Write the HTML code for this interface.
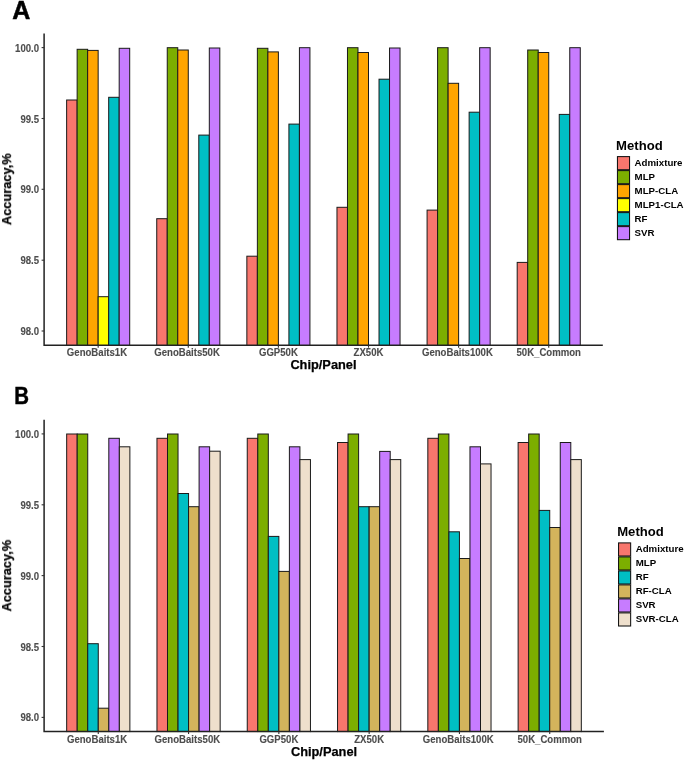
<!DOCTYPE html>
<html><head><meta charset="utf-8"><style>
html,body{margin:0;padding:0;background:#fff;}
body{width:685px;height:760px;overflow:hidden;}
svg{display:block;}
text{will-change:transform;}
</style></head><body>
<svg width="685" height="760" viewBox="0 0 685 760">
<rect width="685" height="760" fill="#fff"/>
<rect x="66.63" y="100.00" width="10.51" height="250.30" fill="#F8766D" stroke="#1a1a1a" stroke-width="1"/>
<rect x="77.14" y="49.30" width="10.51" height="301.00" fill="#7CAE00" stroke="#1a1a1a" stroke-width="1"/>
<rect x="87.65" y="50.40" width="10.51" height="299.90" fill="#FFA500" stroke="#1a1a1a" stroke-width="1"/>
<rect x="98.17" y="296.70" width="10.51" height="53.60" fill="#FFFF00" stroke="#1a1a1a" stroke-width="1"/>
<rect x="108.68" y="97.30" width="10.51" height="253.00" fill="#00BFC4" stroke="#1a1a1a" stroke-width="1"/>
<rect x="119.19" y="48.30" width="10.51" height="302.00" fill="#C77CFF" stroke="#1a1a1a" stroke-width="1"/>
<rect x="156.74" y="218.70" width="10.51" height="131.60" fill="#F8766D" stroke="#1a1a1a" stroke-width="1"/>
<rect x="167.25" y="47.70" width="10.51" height="302.60" fill="#7CAE00" stroke="#1a1a1a" stroke-width="1"/>
<rect x="177.77" y="50.00" width="10.51" height="300.30" fill="#FFA500" stroke="#1a1a1a" stroke-width="1"/>
<rect x="198.79" y="135.10" width="10.51" height="215.20" fill="#00BFC4" stroke="#1a1a1a" stroke-width="1"/>
<rect x="209.31" y="48.00" width="10.51" height="302.30" fill="#C77CFF" stroke="#1a1a1a" stroke-width="1"/>
<rect x="246.85" y="256.20" width="10.51" height="94.10" fill="#F8766D" stroke="#1a1a1a" stroke-width="1"/>
<rect x="257.37" y="48.30" width="10.51" height="302.00" fill="#7CAE00" stroke="#1a1a1a" stroke-width="1"/>
<rect x="267.88" y="51.90" width="10.51" height="298.40" fill="#FFA500" stroke="#1a1a1a" stroke-width="1"/>
<rect x="288.91" y="124.10" width="10.51" height="226.20" fill="#00BFC4" stroke="#1a1a1a" stroke-width="1"/>
<rect x="299.42" y="47.70" width="10.51" height="302.60" fill="#C77CFF" stroke="#1a1a1a" stroke-width="1"/>
<rect x="336.97" y="207.30" width="10.51" height="143.00" fill="#F8766D" stroke="#1a1a1a" stroke-width="1"/>
<rect x="347.48" y="47.70" width="10.51" height="302.60" fill="#7CAE00" stroke="#1a1a1a" stroke-width="1"/>
<rect x="357.99" y="52.50" width="10.51" height="297.80" fill="#FFA500" stroke="#1a1a1a" stroke-width="1"/>
<rect x="379.02" y="79.20" width="10.51" height="271.10" fill="#00BFC4" stroke="#1a1a1a" stroke-width="1"/>
<rect x="389.53" y="48.00" width="10.51" height="302.30" fill="#C77CFF" stroke="#1a1a1a" stroke-width="1"/>
<rect x="427.08" y="210.10" width="10.51" height="140.20" fill="#F8766D" stroke="#1a1a1a" stroke-width="1"/>
<rect x="437.59" y="47.70" width="10.51" height="302.60" fill="#7CAE00" stroke="#1a1a1a" stroke-width="1"/>
<rect x="448.11" y="83.30" width="10.51" height="267.00" fill="#FFA500" stroke="#1a1a1a" stroke-width="1"/>
<rect x="469.13" y="112.20" width="10.51" height="238.10" fill="#00BFC4" stroke="#1a1a1a" stroke-width="1"/>
<rect x="479.65" y="47.70" width="10.51" height="302.60" fill="#C77CFF" stroke="#1a1a1a" stroke-width="1"/>
<rect x="517.19" y="262.40" width="10.51" height="87.90" fill="#F8766D" stroke="#1a1a1a" stroke-width="1"/>
<rect x="527.71" y="50.00" width="10.51" height="300.30" fill="#7CAE00" stroke="#1a1a1a" stroke-width="1"/>
<rect x="538.22" y="52.50" width="10.51" height="297.80" fill="#FFA500" stroke="#1a1a1a" stroke-width="1"/>
<rect x="559.25" y="114.40" width="10.51" height="235.90" fill="#00BFC4" stroke="#1a1a1a" stroke-width="1"/>
<rect x="569.76" y="47.70" width="10.51" height="302.60" fill="#C77CFF" stroke="#1a1a1a" stroke-width="1"/>
<rect x="42.1" y="345.7" width="564.6999999999999" height="8" fill="#fff"/>
<path d="M44.10,33.40V345.20H602.80" fill="none" stroke="#222" stroke-width="1.5"/>
<line x1="41.60" y1="331.00" x2="44.10" y2="331.00" stroke="#333" stroke-width="1.1"/>
<text transform="translate(39.10,335.00) scale(0.95,1)" text-anchor="end" font-size="10.1" fill="#4D4D4D" stroke="#4D4D4D" stroke-width="0.12" font-family="Liberation Sans, sans-serif" font-weight="bold">98.0</text>
<line x1="41.60" y1="260.20" x2="44.10" y2="260.20" stroke="#333" stroke-width="1.1"/>
<text transform="translate(39.10,264.20) scale(0.95,1)" text-anchor="end" font-size="10.1" fill="#4D4D4D" stroke="#4D4D4D" stroke-width="0.12" font-family="Liberation Sans, sans-serif" font-weight="bold">98.5</text>
<line x1="41.60" y1="189.30" x2="44.10" y2="189.30" stroke="#333" stroke-width="1.1"/>
<text transform="translate(39.10,193.30) scale(0.95,1)" text-anchor="end" font-size="10.1" fill="#4D4D4D" stroke="#4D4D4D" stroke-width="0.12" font-family="Liberation Sans, sans-serif" font-weight="bold">99.0</text>
<line x1="41.60" y1="118.50" x2="44.10" y2="118.50" stroke="#333" stroke-width="1.1"/>
<text transform="translate(39.10,122.50) scale(0.95,1)" text-anchor="end" font-size="10.1" fill="#4D4D4D" stroke="#4D4D4D" stroke-width="0.12" font-family="Liberation Sans, sans-serif" font-weight="bold">99.5</text>
<line x1="41.60" y1="47.60" x2="44.10" y2="47.60" stroke="#333" stroke-width="1.1"/>
<text transform="translate(39.10,51.60) scale(0.95,1)" text-anchor="end" font-size="10.1" fill="#4D4D4D" stroke="#4D4D4D" stroke-width="0.12" font-family="Liberation Sans, sans-serif" font-weight="bold">100.0</text>
<line x1="98.17" y1="345.20" x2="98.17" y2="347.70" stroke="#333" stroke-width="1.1"/>
<text transform="translate(96.97,356.10) scale(0.96,1)" text-anchor="middle" font-size="10.0" fill="#4D4D4D" stroke="#4D4D4D" stroke-width="0.12" font-family="Liberation Sans, sans-serif" font-weight="bold">GenoBaits1K</text>
<line x1="188.28" y1="345.20" x2="188.28" y2="347.70" stroke="#333" stroke-width="1.1"/>
<text transform="translate(187.08,356.10) scale(0.96,1)" text-anchor="middle" font-size="10.0" fill="#4D4D4D" stroke="#4D4D4D" stroke-width="0.12" font-family="Liberation Sans, sans-serif" font-weight="bold">GenoBaits50K</text>
<line x1="278.39" y1="345.20" x2="278.39" y2="347.70" stroke="#333" stroke-width="1.1"/>
<text transform="translate(278.39,356.10) scale(0.96,1)" text-anchor="middle" font-size="10.0" fill="#4D4D4D" stroke="#4D4D4D" stroke-width="0.12" font-family="Liberation Sans, sans-serif" font-weight="bold">GGP50K</text>
<line x1="368.51" y1="345.20" x2="368.51" y2="347.70" stroke="#333" stroke-width="1.1"/>
<text transform="translate(368.51,356.10) scale(0.96,1)" text-anchor="middle" font-size="10.0" fill="#4D4D4D" stroke="#4D4D4D" stroke-width="0.12" font-family="Liberation Sans, sans-serif" font-weight="bold">ZX50K</text>
<line x1="458.62" y1="345.20" x2="458.62" y2="347.70" stroke="#333" stroke-width="1.1"/>
<text transform="translate(457.42,356.10) scale(0.96,1)" text-anchor="middle" font-size="10.0" fill="#4D4D4D" stroke="#4D4D4D" stroke-width="0.12" font-family="Liberation Sans, sans-serif" font-weight="bold">GenoBaits100K</text>
<line x1="548.73" y1="345.20" x2="548.73" y2="347.70" stroke="#333" stroke-width="1.1"/>
<text transform="translate(548.73,356.10) scale(0.96,1)" text-anchor="middle" font-size="10.0" fill="#4D4D4D" stroke="#4D4D4D" stroke-width="0.12" font-family="Liberation Sans, sans-serif" font-weight="bold">50K_Common</text>
<text x="323.45" y="369.40" text-anchor="middle" font-size="12.8" fill="#000" stroke="#000" stroke-width="0.25" font-family="Liberation Sans, sans-serif" font-weight="bold">Chip/Panel</text>
<text transform="translate(11.05,189.30) rotate(-90)" text-anchor="middle" font-size="12.8" fill="#000" stroke="#000" stroke-width="0.25" font-family="Liberation Sans, sans-serif" font-weight="bold">Accuracy,%</text>
<text x="12.2" y="18.80" font-size="25" fill="#000" stroke="#000" stroke-width="0.5" font-family="Liberation Sans, sans-serif" font-weight="bold">A</text>
<text x="616.10" y="149.90" font-size="13.1" fill="#000" font-family="Liberation Sans, sans-serif" font-weight="bold">Method</text>
<rect x="617.45" y="156.60" width="12.1" height="13.1" fill="#F8766D" stroke="#111" stroke-width="1.05"/>
<text x="634.60" y="166.10" font-size="9.7" fill="#000" font-family="Liberation Sans, sans-serif" font-weight="bold">Admixture</text>
<rect x="617.45" y="170.60" width="12.1" height="13.1" fill="#7CAE00" stroke="#111" stroke-width="1.05"/>
<text x="634.60" y="180.10" font-size="9.7" fill="#000" font-family="Liberation Sans, sans-serif" font-weight="bold">MLP</text>
<rect x="617.45" y="184.60" width="12.1" height="13.1" fill="#FFA500" stroke="#111" stroke-width="1.05"/>
<text x="634.60" y="194.10" font-size="9.7" fill="#000" font-family="Liberation Sans, sans-serif" font-weight="bold">MLP-CLA</text>
<rect x="617.45" y="198.60" width="12.1" height="13.1" fill="#FFFF00" stroke="#111" stroke-width="1.05"/>
<text x="634.60" y="208.10" font-size="9.7" fill="#000" font-family="Liberation Sans, sans-serif" font-weight="bold">MLP1-CLA</text>
<rect x="617.45" y="212.60" width="12.1" height="13.1" fill="#00BFC4" stroke="#111" stroke-width="1.05"/>
<text x="634.60" y="222.10" font-size="9.7" fill="#000" font-family="Liberation Sans, sans-serif" font-weight="bold">RF</text>
<rect x="617.45" y="226.60" width="12.1" height="13.1" fill="#C77CFF" stroke="#111" stroke-width="1.05"/>
<text x="634.60" y="236.10" font-size="9.7" fill="#000" font-family="Liberation Sans, sans-serif" font-weight="bold">SVR</text>
<rect x="66.67" y="434.00" width="10.53" height="302.70" fill="#F8766D" stroke="#1a1a1a" stroke-width="1"/>
<rect x="77.21" y="434.00" width="10.53" height="302.70" fill="#7CAE00" stroke="#1a1a1a" stroke-width="1"/>
<rect x="87.74" y="643.70" width="10.53" height="93.00" fill="#00BFC4" stroke="#1a1a1a" stroke-width="1"/>
<rect x="98.27" y="708.20" width="10.53" height="28.50" fill="#D3B45C" stroke="#1a1a1a" stroke-width="1"/>
<rect x="108.81" y="438.30" width="10.53" height="298.40" fill="#C77CFF" stroke="#1a1a1a" stroke-width="1"/>
<rect x="119.34" y="446.80" width="10.53" height="289.90" fill="#EEDFCC" stroke="#1a1a1a" stroke-width="1"/>
<rect x="156.96" y="438.30" width="10.53" height="298.40" fill="#F8766D" stroke="#1a1a1a" stroke-width="1"/>
<rect x="167.50" y="434.00" width="10.53" height="302.70" fill="#7CAE00" stroke="#1a1a1a" stroke-width="1"/>
<rect x="178.03" y="493.50" width="10.53" height="243.20" fill="#00BFC4" stroke="#1a1a1a" stroke-width="1"/>
<rect x="188.56" y="506.70" width="10.53" height="230.00" fill="#D3B45C" stroke="#1a1a1a" stroke-width="1"/>
<rect x="199.10" y="446.80" width="10.53" height="289.90" fill="#C77CFF" stroke="#1a1a1a" stroke-width="1"/>
<rect x="209.63" y="451.20" width="10.53" height="285.50" fill="#EEDFCC" stroke="#1a1a1a" stroke-width="1"/>
<rect x="247.25" y="438.30" width="10.53" height="298.40" fill="#F8766D" stroke="#1a1a1a" stroke-width="1"/>
<rect x="257.79" y="434.00" width="10.53" height="302.70" fill="#7CAE00" stroke="#1a1a1a" stroke-width="1"/>
<rect x="268.32" y="536.40" width="10.53" height="200.30" fill="#00BFC4" stroke="#1a1a1a" stroke-width="1"/>
<rect x="278.85" y="571.40" width="10.53" height="165.30" fill="#D3B45C" stroke="#1a1a1a" stroke-width="1"/>
<rect x="289.39" y="446.80" width="10.53" height="289.90" fill="#C77CFF" stroke="#1a1a1a" stroke-width="1"/>
<rect x="299.92" y="459.60" width="10.53" height="277.10" fill="#EEDFCC" stroke="#1a1a1a" stroke-width="1"/>
<rect x="337.54" y="442.50" width="10.53" height="294.20" fill="#F8766D" stroke="#1a1a1a" stroke-width="1"/>
<rect x="348.08" y="434.00" width="10.53" height="302.70" fill="#7CAE00" stroke="#1a1a1a" stroke-width="1"/>
<rect x="358.61" y="506.70" width="10.53" height="230.00" fill="#00BFC4" stroke="#1a1a1a" stroke-width="1"/>
<rect x="369.15" y="506.70" width="10.53" height="230.00" fill="#D3B45C" stroke="#1a1a1a" stroke-width="1"/>
<rect x="379.68" y="451.40" width="10.53" height="285.30" fill="#C77CFF" stroke="#1a1a1a" stroke-width="1"/>
<rect x="390.21" y="459.60" width="10.53" height="277.10" fill="#EEDFCC" stroke="#1a1a1a" stroke-width="1"/>
<rect x="427.83" y="438.30" width="10.53" height="298.40" fill="#F8766D" stroke="#1a1a1a" stroke-width="1"/>
<rect x="438.37" y="434.00" width="10.53" height="302.70" fill="#7CAE00" stroke="#1a1a1a" stroke-width="1"/>
<rect x="448.90" y="531.80" width="10.53" height="204.90" fill="#00BFC4" stroke="#1a1a1a" stroke-width="1"/>
<rect x="459.44" y="558.50" width="10.53" height="178.20" fill="#D3B45C" stroke="#1a1a1a" stroke-width="1"/>
<rect x="469.97" y="446.80" width="10.53" height="289.90" fill="#C77CFF" stroke="#1a1a1a" stroke-width="1"/>
<rect x="480.50" y="463.90" width="10.53" height="272.80" fill="#EEDFCC" stroke="#1a1a1a" stroke-width="1"/>
<rect x="518.12" y="442.50" width="10.53" height="294.20" fill="#F8766D" stroke="#1a1a1a" stroke-width="1"/>
<rect x="528.66" y="434.00" width="10.53" height="302.70" fill="#7CAE00" stroke="#1a1a1a" stroke-width="1"/>
<rect x="539.19" y="510.40" width="10.53" height="226.30" fill="#00BFC4" stroke="#1a1a1a" stroke-width="1"/>
<rect x="549.73" y="527.50" width="10.53" height="209.20" fill="#D3B45C" stroke="#1a1a1a" stroke-width="1"/>
<rect x="560.26" y="442.50" width="10.53" height="294.20" fill="#C77CFF" stroke="#1a1a1a" stroke-width="1"/>
<rect x="570.79" y="459.60" width="10.53" height="277.10" fill="#EEDFCC" stroke="#1a1a1a" stroke-width="1"/>
<rect x="42.1" y="732.1" width="565.8" height="8" fill="#fff"/>
<path d="M44.10,419.80V731.60H603.90" fill="none" stroke="#222" stroke-width="1.5"/>
<line x1="41.60" y1="717.40" x2="44.10" y2="717.40" stroke="#333" stroke-width="1.1"/>
<text transform="translate(39.10,721.40) scale(0.95,1)" text-anchor="end" font-size="10.1" fill="#4D4D4D" stroke="#4D4D4D" stroke-width="0.12" font-family="Liberation Sans, sans-serif" font-weight="bold">98.0</text>
<line x1="41.60" y1="646.50" x2="44.10" y2="646.50" stroke="#333" stroke-width="1.1"/>
<text transform="translate(39.10,650.50) scale(0.95,1)" text-anchor="end" font-size="10.1" fill="#4D4D4D" stroke="#4D4D4D" stroke-width="0.12" font-family="Liberation Sans, sans-serif" font-weight="bold">98.5</text>
<line x1="41.60" y1="575.60" x2="44.10" y2="575.60" stroke="#333" stroke-width="1.1"/>
<text transform="translate(39.10,579.60) scale(0.95,1)" text-anchor="end" font-size="10.1" fill="#4D4D4D" stroke="#4D4D4D" stroke-width="0.12" font-family="Liberation Sans, sans-serif" font-weight="bold">99.0</text>
<line x1="41.60" y1="504.80" x2="44.10" y2="504.80" stroke="#333" stroke-width="1.1"/>
<text transform="translate(39.10,508.80) scale(0.95,1)" text-anchor="end" font-size="10.1" fill="#4D4D4D" stroke="#4D4D4D" stroke-width="0.12" font-family="Liberation Sans, sans-serif" font-weight="bold">99.5</text>
<line x1="41.60" y1="433.90" x2="44.10" y2="433.90" stroke="#333" stroke-width="1.1"/>
<text transform="translate(39.10,437.90) scale(0.95,1)" text-anchor="end" font-size="10.1" fill="#4D4D4D" stroke="#4D4D4D" stroke-width="0.12" font-family="Liberation Sans, sans-serif" font-weight="bold">100.0</text>
<line x1="98.27" y1="731.60" x2="98.27" y2="734.10" stroke="#333" stroke-width="1.1"/>
<text transform="translate(97.07,742.50) scale(0.96,1)" text-anchor="middle" font-size="10.0" fill="#4D4D4D" stroke="#4D4D4D" stroke-width="0.12" font-family="Liberation Sans, sans-serif" font-weight="bold">GenoBaits1K</text>
<line x1="188.56" y1="731.60" x2="188.56" y2="734.10" stroke="#333" stroke-width="1.1"/>
<text transform="translate(187.36,742.50) scale(0.96,1)" text-anchor="middle" font-size="10.0" fill="#4D4D4D" stroke="#4D4D4D" stroke-width="0.12" font-family="Liberation Sans, sans-serif" font-weight="bold">GenoBaits50K</text>
<line x1="278.85" y1="731.60" x2="278.85" y2="734.10" stroke="#333" stroke-width="1.1"/>
<text transform="translate(278.85,742.50) scale(0.96,1)" text-anchor="middle" font-size="10.0" fill="#4D4D4D" stroke="#4D4D4D" stroke-width="0.12" font-family="Liberation Sans, sans-serif" font-weight="bold">GGP50K</text>
<line x1="369.15" y1="731.60" x2="369.15" y2="734.10" stroke="#333" stroke-width="1.1"/>
<text transform="translate(369.15,742.50) scale(0.96,1)" text-anchor="middle" font-size="10.0" fill="#4D4D4D" stroke="#4D4D4D" stroke-width="0.12" font-family="Liberation Sans, sans-serif" font-weight="bold">ZX50K</text>
<line x1="459.44" y1="731.60" x2="459.44" y2="734.10" stroke="#333" stroke-width="1.1"/>
<text transform="translate(458.24,742.50) scale(0.96,1)" text-anchor="middle" font-size="10.0" fill="#4D4D4D" stroke="#4D4D4D" stroke-width="0.12" font-family="Liberation Sans, sans-serif" font-weight="bold">GenoBaits100K</text>
<line x1="549.73" y1="731.60" x2="549.73" y2="734.10" stroke="#333" stroke-width="1.1"/>
<text transform="translate(549.73,742.50) scale(0.96,1)" text-anchor="middle" font-size="10.0" fill="#4D4D4D" stroke="#4D4D4D" stroke-width="0.12" font-family="Liberation Sans, sans-serif" font-weight="bold">50K_Common</text>
<text x="324.00" y="755.80" text-anchor="middle" font-size="12.8" fill="#000" stroke="#000" stroke-width="0.25" font-family="Liberation Sans, sans-serif" font-weight="bold">Chip/Panel</text>
<text transform="translate(11.05,575.70) rotate(-90)" text-anchor="middle" font-size="12.8" fill="#000" stroke="#000" stroke-width="0.25" font-family="Liberation Sans, sans-serif" font-weight="bold">Accuracy,%</text>
<text transform="translate(14.3,403.90) scale(0.85,1)" font-size="24" fill="#000" stroke="#000" stroke-width="0.5" font-family="Liberation Sans, sans-serif" font-weight="bold">B</text>
<text x="617.20" y="536.10" font-size="13.1" fill="#000" font-family="Liberation Sans, sans-serif" font-weight="bold">Method</text>
<rect x="618.55" y="542.90" width="12.1" height="13.1" fill="#F8766D" stroke="#111" stroke-width="1.05"/>
<text x="635.70" y="552.40" font-size="9.7" fill="#000" font-family="Liberation Sans, sans-serif" font-weight="bold">Admixture</text>
<rect x="618.55" y="556.90" width="12.1" height="13.1" fill="#7CAE00" stroke="#111" stroke-width="1.05"/>
<text x="635.70" y="566.40" font-size="9.7" fill="#000" font-family="Liberation Sans, sans-serif" font-weight="bold">MLP</text>
<rect x="618.55" y="570.90" width="12.1" height="13.1" fill="#00BFC4" stroke="#111" stroke-width="1.05"/>
<text x="635.70" y="580.40" font-size="9.7" fill="#000" font-family="Liberation Sans, sans-serif" font-weight="bold">RF</text>
<rect x="618.55" y="584.90" width="12.1" height="13.1" fill="#D3B45C" stroke="#111" stroke-width="1.05"/>
<text x="635.70" y="594.40" font-size="9.7" fill="#000" font-family="Liberation Sans, sans-serif" font-weight="bold">RF-CLA</text>
<rect x="618.55" y="598.90" width="12.1" height="13.1" fill="#C77CFF" stroke="#111" stroke-width="1.05"/>
<text x="635.70" y="608.40" font-size="9.7" fill="#000" font-family="Liberation Sans, sans-serif" font-weight="bold">SVR</text>
<rect x="618.55" y="612.90" width="12.1" height="13.1" fill="#EEDFCC" stroke="#111" stroke-width="1.05"/>
<text x="635.70" y="622.40" font-size="9.7" fill="#000" font-family="Liberation Sans, sans-serif" font-weight="bold">SVR-CLA</text>
</svg>
</body></html>
